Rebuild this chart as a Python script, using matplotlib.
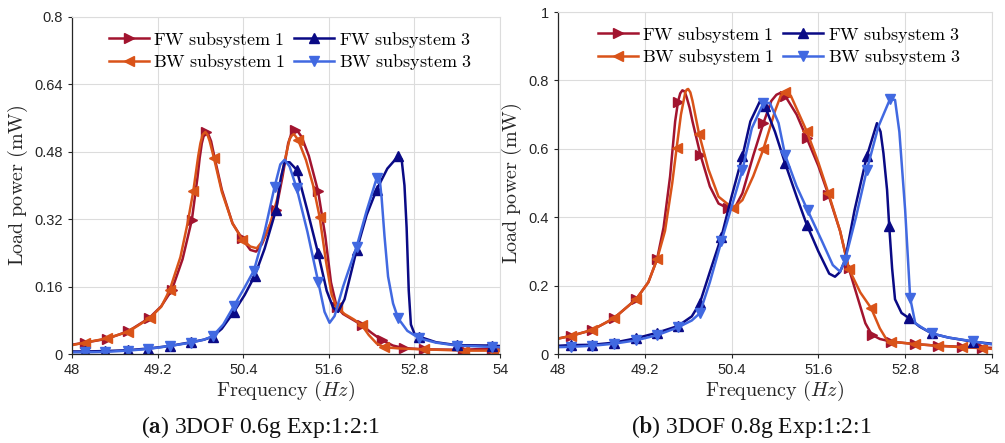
import numpy as np
import matplotlib
matplotlib.use("Agg")
import matplotlib.pyplot as plt

plt.rcParams['mathtext.fontset'] = 'cm'

C_FW1 = '#A2142F'
C_BW1 = '#D95319'
C_FW3 = '#0A0A85'
C_BW3 = '#4169E1'

# ---------------- (a) 3DOF 0.6g ----------------
a_fw1_f = [48.0, 48.18, 48.49, 48.79, 49.08, 49.25, 49.40, 49.55, 49.68, 49.76, 49.79, 49.82, 49.85, 49.88,
           49.91, 49.95, 50.0, 50.10, 50.25, 50.38, 50.50, 50.58, 50.66, 50.76, 50.86, 50.95, 51.03, 51.08,
           51.12, 51.17, 51.22, 51.32, 51.45, 51.55, 51.63, 51.71, 51.80, 51.93, 52.06, 52.20, 52.34, 52.50,
           52.65, 52.94, 53.48, 53.88, 54.0]
a_fw1_p = [0.022, 0.027, 0.036, 0.054, 0.085, 0.113, 0.152, 0.225, 0.318, 0.42, 0.465, 0.50, 0.52, 0.528,
           0.522, 0.505, 0.465, 0.39, 0.31, 0.275, 0.247, 0.243, 0.26, 0.30, 0.342, 0.42, 0.50, 0.525,
           0.532, 0.527, 0.515, 0.47, 0.386, 0.28, 0.17, 0.112, 0.095, 0.082, 0.069, 0.05, 0.033, 0.02,
           0.014, 0.011, 0.010, 0.013, 0.013]
a_fw1_m = [48.18, 48.49, 48.79, 49.08, 49.40, 49.68, 49.88, 50.38, 50.86, 51.12, 51.45, 51.71, 52.06,
           52.34, 52.65, 52.94, 53.48, 53.88]

a_bw1_f = [48.0, 48.18, 48.49, 48.79, 49.09, 49.25, 49.37, 49.52, 49.62, 49.70, 49.77, 49.80, 49.83, 49.87,
           49.90, 49.93, 49.99, 50.10, 50.25, 50.39, 50.50, 50.59, 50.68, 50.78, 50.88, 50.97, 51.05, 51.08,
           51.11, 51.17, 51.28, 51.38, 51.47, 51.56, 51.64, 51.71, 51.82, 51.95, 52.06, 52.16, 52.27, 52.38,
           52.60, 52.94, 53.50, 53.90, 54.0]
a_bw1_p = [0.021, 0.027, 0.037, 0.053, 0.085, 0.112, 0.152, 0.23, 0.31, 0.386, 0.47, 0.50, 0.52, 0.527,
           0.52, 0.505, 0.465, 0.385, 0.31, 0.271, 0.255, 0.251, 0.27, 0.31, 0.37, 0.45, 0.51, 0.518,
           0.522, 0.508, 0.46, 0.40, 0.326, 0.22, 0.14, 0.112, 0.095, 0.082, 0.069, 0.045, 0.025, 0.016,
           0.013, 0.011, 0.008, 0.008, 0.007]
a_bw1_m = [48.18, 48.49, 48.79, 49.09, 49.37, 49.70, 49.99, 50.39, 51.17, 51.47, 51.71, 52.06, 52.38,
           52.94, 53.50, 53.90]

a_fw3_f = [48.0, 48.18, 48.47, 48.78, 49.07, 49.37, 49.67, 49.85, 49.97, 50.10, 50.27, 50.42, 50.56, 50.70,
           50.86, 50.93, 50.98, 51.05, 51.15, 51.30, 51.45, 51.57, 51.66, 51.73, 51.82, 51.99, 52.13, 52.27,
           52.42, 52.57, 52.62, 52.66, 52.69, 52.72, 52.75, 52.80, 52.87, 53.10, 53.39, 53.88, 54.0]
a_fw3_p = [0.006, 0.006, 0.007, 0.009, 0.013, 0.019, 0.028, 0.034, 0.041, 0.06, 0.10, 0.14, 0.185, 0.25,
           0.342, 0.42, 0.455, 0.455, 0.437, 0.34, 0.239, 0.15, 0.11, 0.10, 0.13, 0.247, 0.33, 0.39,
           0.44, 0.469, 0.462, 0.40, 0.30, 0.15, 0.07, 0.048, 0.041, 0.028, 0.021, 0.020, 0.019]
a_fw3_m = [48.18, 48.47, 48.78, 49.07, 49.37, 49.67, 49.97, 50.27, 50.56, 50.86, 51.15, 51.45, 51.99,
           52.27, 52.57, 52.87, 53.39, 53.88]

a_bw3_f = [48.0, 48.18, 48.47, 48.78, 49.07, 49.37, 49.67, 49.85, 49.97, 50.12, 50.27, 50.41, 50.55, 50.70,
           50.84, 50.92, 50.98, 51.05, 51.15, 51.30, 51.45, 51.54, 51.61, 51.68, 51.80, 51.99, 52.13, 52.27,
           52.31, 52.34, 52.38, 52.43, 52.50, 52.57, 52.70, 52.87, 53.10, 53.39, 53.88, 54.0]
a_bw3_p = [0.004, 0.004, 0.005, 0.008, 0.012, 0.019, 0.027, 0.034, 0.042, 0.07, 0.114, 0.155, 0.198, 0.29,
           0.397, 0.45, 0.461, 0.445, 0.393, 0.29, 0.172, 0.10, 0.074, 0.09, 0.16, 0.255, 0.34, 0.417,
           0.42, 0.37, 0.28, 0.184, 0.12, 0.085, 0.055, 0.037, 0.027, 0.020, 0.017, 0.016]
a_bw3_m = [48.18, 48.47, 48.78, 49.07, 49.37, 49.67, 49.97, 50.27, 50.55, 50.84, 51.15, 51.45, 51.99,
           52.27, 52.57, 52.87, 53.39, 53.88]

# ---------------- (b) 3DOF 0.8g ----------------
b_fw1_f = [48.0, 48.18, 48.47, 48.77, 49.08, 49.25, 49.37, 49.46, 49.55, 49.62, 49.66, 49.69, 49.72, 49.75,
           49.78, 49.82, 49.86, 49.97, 50.10, 50.22, 50.35, 50.45, 50.55, 50.70, 50.84, 50.95, 51.02, 51.07,
           51.14, 51.30, 51.44, 51.60, 51.74, 51.90, 52.02, 52.15, 52.25, 52.34, 52.45, 52.61, 52.94, 53.26,
           53.58, 53.86, 54.0]
b_fw1_p = [0.045, 0.053, 0.070, 0.104, 0.160, 0.21, 0.277, 0.37, 0.519, 0.68, 0.738, 0.762, 0.771, 0.768,
           0.75, 0.72, 0.68, 0.582, 0.49, 0.44, 0.426, 0.43, 0.47, 0.58, 0.675, 0.74, 0.758, 0.763,
           0.755, 0.70, 0.631, 0.55, 0.465, 0.36, 0.251, 0.16, 0.09, 0.056, 0.044, 0.036, 0.029, 0.024,
           0.021, 0.019, 0.018]
b_fw1_m = [48.18, 48.47, 48.77, 49.08, 49.37, 49.66, 49.97, 50.35, 50.84, 51.14, 51.44, 51.74, 52.02,
           52.34, 52.61, 52.94, 53.26, 53.58, 53.86]

b_bw1_f = [48.0, 48.18, 48.47, 48.77, 49.08, 49.25, 49.37, 49.48, 49.58, 49.64, 49.70, 49.76, 49.78, 49.80,
           49.83, 49.86, 49.95, 50.08, 50.22, 50.42, 50.55, 50.70, 50.84, 51.00, 51.08, 51.14, 51.22, 51.44,
           51.60, 51.74, 51.90, 52.02, 52.18, 52.33, 52.45, 52.55, 52.61, 52.94, 53.26, 53.58, 53.86, 54.0]
b_bw1_p = [0.045, 0.053, 0.070, 0.104, 0.160, 0.21, 0.277, 0.36, 0.50, 0.602, 0.70, 0.765, 0.773, 0.775,
           0.765, 0.74, 0.644, 0.54, 0.46, 0.426, 0.45, 0.52, 0.599, 0.71, 0.755, 0.765, 0.755, 0.651,
           0.56, 0.47, 0.36, 0.25, 0.18, 0.134, 0.075, 0.04, 0.036, 0.029, 0.024, 0.020, 0.017, 0.015]
b_bw1_m = [48.18, 48.47, 48.77, 49.08, 49.37, 49.64, 49.95, 50.42, 50.84, 51.14, 51.44, 51.74, 52.02,
           52.33, 52.61, 52.94, 53.26, 53.58, 53.86]

b_fw3_f = [48.0, 48.18, 48.47, 48.77, 49.08, 49.37, 49.66, 49.85, 49.96, 50.10, 50.26, 50.40, 50.55, 50.66,
           50.79, 50.86, 51.00, 51.14, 51.30, 51.44, 51.60, 51.75, 51.83, 51.90, 51.97, 52.10, 52.27, 52.41,
           52.46, 52.50, 52.55, 52.58, 52.62, 52.66, 52.75, 52.86, 53.00, 53.17, 53.40, 53.74, 54.0]
b_fw3_p = [0.024, 0.026, 0.027, 0.033, 0.046, 0.062, 0.082, 0.11, 0.148, 0.24, 0.343, 0.46, 0.578, 0.68,
           0.738, 0.725, 0.65, 0.558, 0.46, 0.378, 0.30, 0.235, 0.226, 0.24, 0.275, 0.42, 0.578, 0.675,
           0.65, 0.587, 0.48, 0.373, 0.25, 0.16, 0.12, 0.104, 0.08, 0.06, 0.048, 0.036, 0.03]
b_fw3_m = [48.18, 48.47, 48.77, 49.08, 49.37, 49.66, 49.96, 50.26, 50.55, 50.86, 51.14, 51.44, 52.27,
           52.58, 52.86, 53.17, 53.74]

b_bw3_f = [48.0, 48.18, 48.47, 48.77, 49.08, 49.37, 49.66, 49.85, 49.96, 50.10, 50.26, 50.40, 50.55, 50.68,
           50.84, 50.93, 51.05, 51.14, 51.30, 51.45, 51.65, 51.80, 51.90, 51.97, 52.12, 52.27, 52.43, 52.59,
           52.66, 52.72, 52.80, 52.87, 52.94, 53.05, 53.17, 53.40, 53.74, 54.0]
b_bw3_p = [0.020, 0.021, 0.024, 0.030, 0.040, 0.055, 0.078, 0.098, 0.119, 0.21, 0.33, 0.43, 0.538, 0.66,
           0.734, 0.734, 0.675, 0.582, 0.49, 0.421, 0.33, 0.26, 0.241, 0.275, 0.40, 0.538, 0.665, 0.745,
           0.743, 0.65, 0.421, 0.163, 0.09, 0.075, 0.06, 0.048, 0.037, 0.028]
b_bw3_m = [48.18, 48.47, 48.77, 49.08, 49.37, 49.66, 49.96, 50.26, 50.55, 50.84, 51.14, 51.45, 51.97,
           52.27, 52.59, 52.87, 53.17, 53.74]

labels = [r'$\mathrm{FW\ subsystem\ 1}$', r'$\mathrm{BW\ subsystem\ 1}$',
          r'$\mathrm{FW\ subsystem\ 3}$', r'$\mathrm{BW\ subsystem\ 3}$']
colors = [C_FW1, C_BW1, C_FW3, C_BW3]
markers = ['>', '<', '^', 'v']

panels = [
    dict(series=[(a_fw1_f, a_fw1_p, a_fw1_m), (a_bw1_f, a_bw1_p, a_bw1_m),
                 (a_fw3_f, a_fw3_p, a_fw3_m), (a_bw3_f, a_bw3_p, a_bw3_m)],
         yticks=[0, 0.16, 0.32, 0.48, 0.64, 0.8], ylim=(0, 0.8),
         rect=[0.0716, 0.2009, 0.426, 0.761], cap_x=0.259,
         caption=r'($\mathbf{a}$) 3DOF 0.6g Exp:1:2:1'),
    dict(series=[(b_fw1_f, b_fw1_p, b_fw1_m), (b_bw1_f, b_bw1_p, b_bw1_m),
                 (b_fw3_f, b_fw3_p, b_fw3_m), (b_bw3_f, b_bw3_p, b_bw3_m)],
         yticks=[0, 0.2, 0.4, 0.6, 0.8, 1], ylim=(0, 1),
         rect=[0.5552, 0.2009, 0.4318, 0.772], cap_x=0.748,
         caption=r'($\mathbf{b}$) 3DOF 0.8g Exp:1:2:1'),
]

xticks = [48, 49.2, 50.4, 51.6, 52.8, 54]
xticklabels = ['48', '49.2', '50.4', '51.6', '52.8', '54']

fig = plt.figure(figsize=(10.05, 4.43), dpi=100)

for pan in panels:
    ax = fig.add_axes(pan['rect'])
    for (f, p, m), lab, c, mk in zip(pan['series'], labels, colors, markers):
        f = np.array(f)
        idx = list(np.where(np.isin(f, m))[0])
        ax.plot(f, p, color=c, lw=1.8, marker=mk, markevery=idx, markersize=6.5,
                markerfacecolor=c, markeredgecolor=c, label=lab,
                solid_joinstyle='round')
    ax.set_xlim(48, 54)
    ax.set_ylim(*pan['ylim'])
    ax.set_xticks(xticks)
    ax.set_xticklabels(xticklabels)
    ax.set_yticks(pan['yticks'])
    ax.set_yticklabels([('%g' % v) for v in pan['yticks']])
    ax.grid(True, color='#dcdcdc', lw=0.8)
    ax.set_axisbelow(True)
    for s in ['left', 'bottom']:
        ax.spines[s].set_color('#262626')
        ax.spines[s].set_linewidth(0.9)
    for s in ['top', 'right']:
        ax.spines[s].set_color('#dcdcdc')
        ax.spines[s].set_linewidth(0.8)
    ax.tick_params(direction='out', length=3, width=0.8, color='#262626',
                   labelsize=10.5, labelcolor='#262626')
    for t in ax.get_xticklabels() + ax.get_yticklabels():
        t.set_family('Liberation Sans')
    ax.set_xlabel(r'$\mathrm{Frequency}\ (Hz)$', fontsize=14.5, color='#262626', labelpad=1)
    ax.set_ylabel(r'$\mathrm{Load\ power\ (mW)}$', fontsize=14.5, color='#262626', labelpad=3)
    ax.legend(loc='upper center', ncol=2, frameon=False, fontsize=13,
              handlelength=2.2, handletextpad=0.25, columnspacing=0.5,
              labelspacing=0.15, borderaxespad=0.3, bbox_to_anchor=(0.51, 1.0))
    fig.text(pan['cap_x'], 0.035, pan['caption'], ha='center', va='center', fontsize=17,
             family='Liberation Serif', color='#111111')

fig.savefig('out.png', dpi=100)
